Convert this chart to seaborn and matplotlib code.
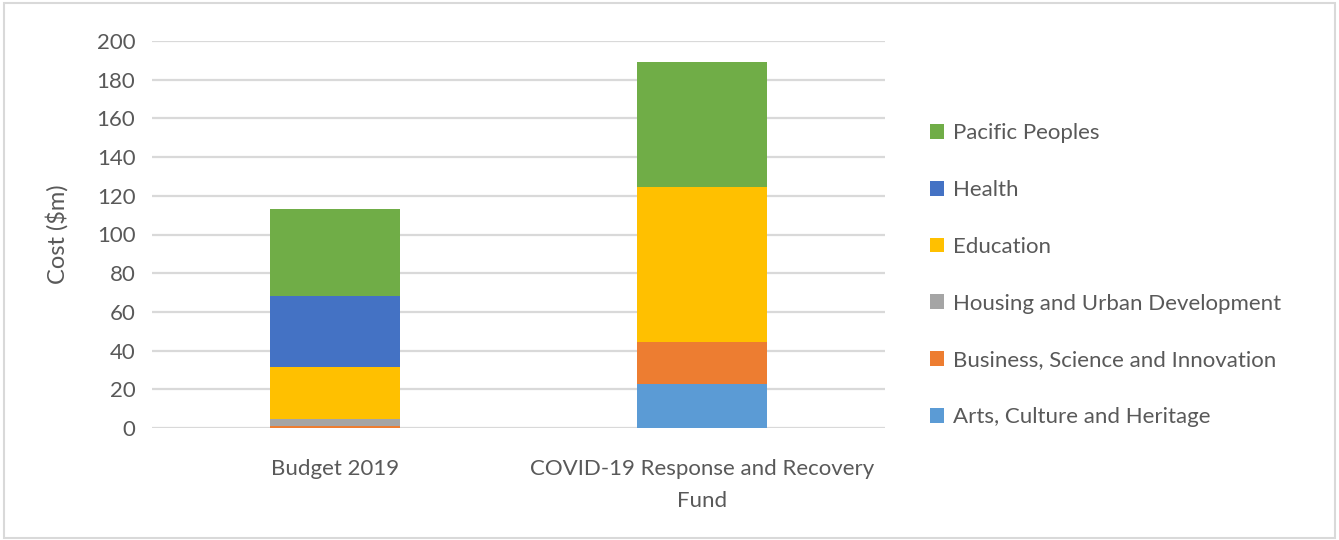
import numpy as np
import pandas as pd
import seaborn as sns
import matplotlib.pyplot as plt
from matplotlib.patches import Patch, Rectangle

# data
categories = ['Budget 2019', 'COVID-19 Response and Recovery\nFund']
series = ['Arts, Culture and Heritage', 'Business, Science and Innovation',
          'Housing and Urban Development', 'Education', 'Health', 'Pacific Peoples']
arts = [0.0, 22.9]
business = [1.0, 21.7]
housing = [3.6, 0.0]
education = [27.1, 80.1]
health = [36.7, 0.0]
pacific = [44.6, 64.6]
colors = ['#5B9BD5', '#ED7D31', '#A5A5A5', '#FFC000', '#4472C4', '#70AD47']

sns.set_style('white')
plt.rcParams['font.family'] = ['Lato', 'DejaVu Sans']
text_col = '#595959'

df = pd.DataFrame({'category': categories, series[0]: arts, series[1]: business,
                   series[2]: housing, series[3]: education, series[4]: health,
                   series[5]: pacific})
cum = df[series].cumsum(axis=1)

fig = plt.figure(figsize=(13.39, 5.4), dpi=100)
ax = fig.add_axes([152 / 1339, 112 / 540, 733 / 1339, 387 / 540])

# draw cumulative totals top-down so each segment shows
for s, c in reversed(list(zip(series, colors))):
    sns.barplot(x=df['category'], y=cum[s], color=c, width=0.355,
                saturation=1, ax=ax, zorder=3, order=categories,
                linewidth=0)

ax.set_xlim(-0.5, 1.5)
ax.set_ylim(0, 200)
ax.set_yticks(range(0, 201, 20))
ax.grid(axis='y', color='#D9D9D9', linewidth=1.6, zorder=0)
ax.set_axisbelow(True)
for sp in ax.spines.values():
    sp.set_visible(False)
ax.tick_params(axis='y', length=0, labelsize=16, colors=text_col, pad=12)
ax.tick_params(axis='x', length=0, labelsize=16, colors=text_col, pad=22)
ax.set_xlabel('')
ax.set_ylabel('Cost ($m)', fontsize=17, color=text_col, labelpad=20)
for lab in ax.get_xticklabels():
    lab.set_linespacing(1.75)

handles = [Patch(facecolor=c, edgecolor='none') for c in colors]
leg = fig.legend(handles[::-1], series[::-1], loc='upper left',
                 bbox_to_anchor=(910 / 1339, 1 - 103 / 540), frameon=False,
                 fontsize=16, handlelength=0.65, handleheight=0.65,
                 handletextpad=0.4, labelspacing=1.66, labelcolor=text_col)

fig.patches.append(Rectangle((0.003, 0.003), 0.994, 0.991, transform=fig.transFigure,
                             fill=False, edgecolor='#D9D9D9', linewidth=1.5))

fig.savefig('out.png', dpi=100)
